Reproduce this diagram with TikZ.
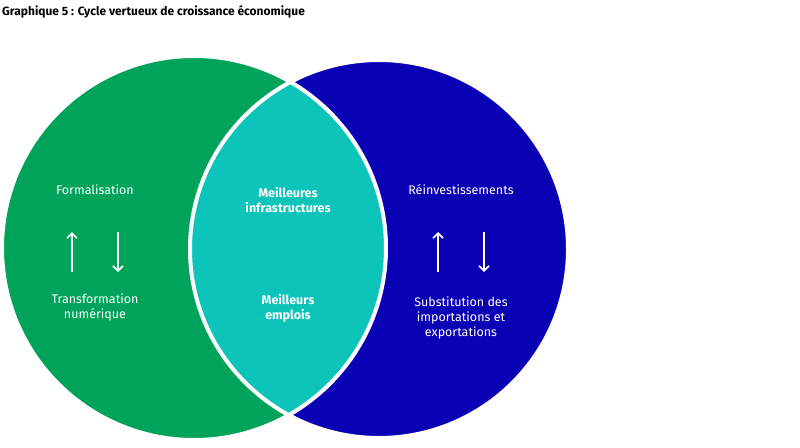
\documentclass[tikz,border=0pt]{standalone}
\usepackage{fontspec}
\setmainfont{Fira Sans}
\usetikzlibrary{arrows.meta}
\definecolor{gr}{HTML}{00A35A}
\definecolor{bl}{HTML}{0A00B4}
\definecolor{te}{HTML}{0CC4BA}
\begin{document}
\begin{tikzpicture}[x=1pt,y=-1pt,
  lbl/.style={text=white,font=\fontsize{12.5}{15}\selectfont,align=center},
  blbl/.style={lbl,font=\fontsize{12.5}{15}\selectfont\bfseries},
  arr/.style={white,line width=1.6pt,-{Straight Barb[length=5pt,width=10pt]}}]
\useasboundingbox (0,0) rectangle (800,447);
\node[anchor=west,font=\fontsize{12}{14}\selectfont\bfseries,inner sep=0] (title) at (2,12) {Graphique 5 : Cycle vertueux de croissance économique};
\coordinate (cl) at (194,248);
\coordinate (cr) at (379,249);
\fill[gr] (cl) circle (192);
\fill[bl] (cr) circle (189);
\begin{scope}
\clip (cl) circle (192);
\fill[te] (cr) circle (189);
\end{scope}
\draw[white,line width=4pt] (cl) circle (192);
\draw[white,line width=4pt] (cr) circle (189);
\node[lbl] (f) at (95,190) {Formalisation};
\node[lbl] (t) at (95,307) {Transformation\\numérique};
\draw[arr] (72,272) -- (72,232);
\draw[arr] (118,232) -- (118,272);
\node[blbl] (m1) at (288,200) {Meilleures\\infrastructures};
\node[blbl] (m2) at (288,308) {Meilleurs\\emplois};
\node[lbl] (r) at (461,190) {Réinvestissements};
\node[lbl] (s) at (461,318) {Substitution des\\importations et\\exportations};
\draw[arr] (438,272) -- (438,232);
\draw[arr] (484,232) -- (484,272);
\end{tikzpicture}
\end{document}
